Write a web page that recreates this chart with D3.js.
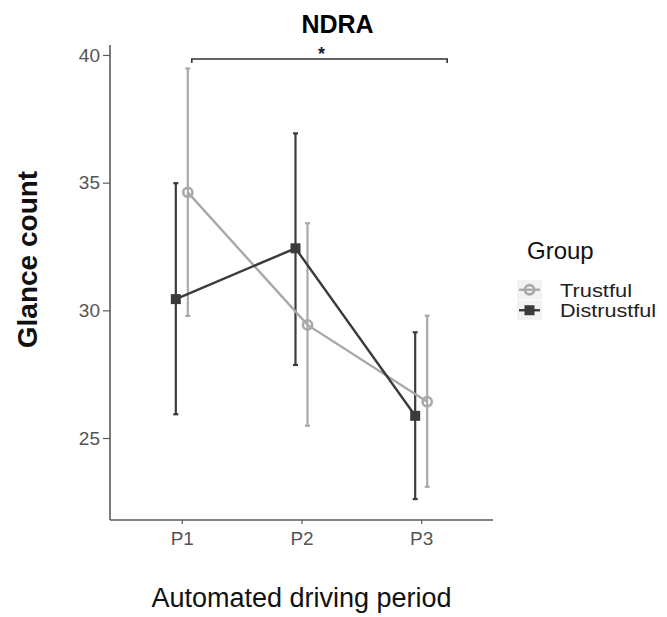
<!DOCTYPE html>
<html>
<head>
<meta charset="utf-8">
<script src="https://cdn.jsdelivr.net/npm/d3@7"></script>
<style>
  html, body { margin: 0; padding: 0; background: #fff; }
  svg { display: block; font-family: "Liberation Sans", Arial, sans-serif; }
</style>
</head>
<body>
<svg id="chart" width="667" height="617"></svg>
<script>
// Glance counts per automated driving period, mean with error bars
const periods = ["P1", "P2", "P3"];
const groups = ["Trustful", "Distrustful"];
const trustfulMean = [34.62, 29.43, 26.42];
const trustfulLow = [29.78, 25.48, 23.09];
const trustfulHigh = [39.47, 33.41, 29.79];
const distrustfulMean = [30.44, 32.43, 25.87];
const distrustfulLow = [25.93, 27.86, 22.61];
const distrustfulHigh = [34.98, 36.93, 29.14];
const yTicks = [25, 30, 35, 40];

const svg = d3.select("#chart");

const plot = { left: 110, right: 493, top: 45, bottom: 520 };
const x = d3.scalePoint().domain(periods).range([plot.left, plot.right]).padding(0.6);
const y = d3.scaleLinear().domain([21.79, 40.39]).range([plot.bottom, plot.top]);

const colors = { Trustful: "#a9a9a9", Distrustful: "#3b3b3b" };
const dodge = { Trustful: 6, Distrustful: -6 };

const series = [
  { name: "Trustful", mean: trustfulMean, low: trustfulLow, high: trustfulHigh },
  { name: "Distrustful", mean: distrustfulMean, low: distrustfulLow, high: distrustfulHigh }
].map(s => ({
  name: s.name,
  points: periods.map((p, i) => ({ period: p, mean: s.mean[i], low: s.low[i], high: s.high[i] }))
}));

const px = (s, d) => x(d.period) + dodge[s.name];

// Axes
const yAxis = d3.axisLeft(y).tickValues(yTicks).tickSize(7).tickPadding(3);
const gy = svg.append("g").attr("transform", `translate(${plot.left},0)`).call(yAxis);
gy.select(".domain").attr("d", `M0,${plot.top}V${plot.bottom}`);

const xAxis = d3.axisBottom(x).tickSize(4).tickPadding(8);
const gx = svg.append("g").attr("transform", `translate(0,${plot.bottom})`).call(xAxis);
gx.select(".domain").attr("d", `M${plot.left},0H${plot.right}`);

[gx, gy].forEach(g => {
  g.select(".domain").attr("stroke", "#5a5a5a").attr("stroke-width", 1.6);
  g.selectAll(".tick line").attr("stroke", "#5a5a5a").attr("stroke-width", 1.2);
  g.selectAll(".tick text").attr("fill", "#555").attr("font-family", "'Liberation Sans', Arial, sans-serif");
});
gy.selectAll(".tick text").attr("font-size", 19);
gx.selectAll(".tick text").attr("font-size", 19);

// Error bars
series.forEach(s => {
  const g = svg.append("g").attr("stroke", colors[s.name]).attr("stroke-width", 2.2).attr("fill", "none");
  s.points.forEach(d => {
    const cx = px(s, d);
    g.append("line").attr("x1", cx).attr("x2", cx).attr("y1", y(d.low)).attr("y2", y(d.high));
    g.append("line").attr("x1", cx - 2.5).attr("x2", cx + 2.5).attr("y1", y(d.low)).attr("y2", y(d.low));
    g.append("line").attr("x1", cx - 2.5).attr("x2", cx + 2.5).attr("y1", y(d.high)).attr("y2", y(d.high));
  });
});

// Connecting lines
const line = s => d3.line().x(d => px(s, d)).y(d => y(d.mean));
series.forEach(s => {
  svg.append("path").datum(s.points)
    .attr("d", line(s))
    .attr("fill", "none")
    .attr("stroke", colors[s.name])
    .attr("stroke-width", 2.4);
});

// Point markers
function marker(g, name, cx, cy) {
  if (name === "Trustful") {
    g.append("circle").attr("cx", cx).attr("cy", cy).attr("r", 4.6)
      .attr("fill", "none").attr("stroke", colors[name]).attr("stroke-width", 2.6);
  } else {
    g.append("rect").attr("x", cx - 5).attr("y", cy - 5).attr("width", 10).attr("height", 10)
      .attr("fill", colors[name]);
  }
}
series.forEach(s => {
  const g = svg.append("g");
  s.points.forEach(d => marker(g, s.name, px(s, d), y(d.mean)));
});

// Significance bracket between P1 and P3
const bx1 = x("P1") + 10, bx2 = x("P3") + 26, by = 59;
svg.append("path")
  .attr("d", `M${bx1},${by + 4}V${by}H${bx2}V${by + 4}`)
  .attr("fill", "none").attr("stroke", "#333").attr("stroke-width", 1.6);
svg.append("text").attr("x", (bx1 + bx2) / 2 + 2).attr("y", 60)
  .attr("text-anchor", "middle").attr("font-size", 18).attr("font-weight", "bold")
  .attr("fill", "#1a1a2e").text("*");

// Title
svg.append("text").attr("x", 337.5).attr("y", 33).attr("text-anchor", "middle")
  .attr("font-size", 25).attr("font-weight", "bold").attr("fill", "#000").text("NDRA");

// Axis titles
svg.append("text").attr("x", 301.5).attr("y", 607).attr("text-anchor", "middle")
  .attr("font-size", 27).attr("fill", "#111").text("Automated driving period");
svg.append("text").attr("transform", "translate(37,259.5) rotate(-90)")
  .attr("text-anchor", "middle").attr("font-size", 28).attr("font-weight", "bold")
  .attr("fill", "#111").text("Glance count");

// Legend
const legend = svg.append("g");
legend.append("text").attr("x", 527).attr("y", 259).attr("font-size", 24).attr("fill", "#111").text("Group");
const legendWidths = { Trustful: 72, Distrustful: 96 };
groups.forEach((name, i) => {
  const ky = 280 + i * 20.5;
  legend.append("rect").attr("x", 517).attr("y", ky).attr("width", 25).attr("height", 19.5).attr("fill", "#f2f2f2");
  const cx = 529.5, cy = ky + 9.75;
  legend.append("line").attr("x1", 519).attr("x2", 540).attr("y1", cy).attr("y2", cy)
    .attr("stroke", colors[name]).attr("stroke-width", 2.4);
  marker(legend, name, cx, cy);
  legend.append("text").attr("x", 560).attr("y", ky + 16.5).attr("font-size", 17.5)
    .attr("textLength", legendWidths[name]).attr("lengthAdjust", "spacingAndGlyphs")
    .attr("fill", "#222").text(name);
});
</script>
</body>
</html>
